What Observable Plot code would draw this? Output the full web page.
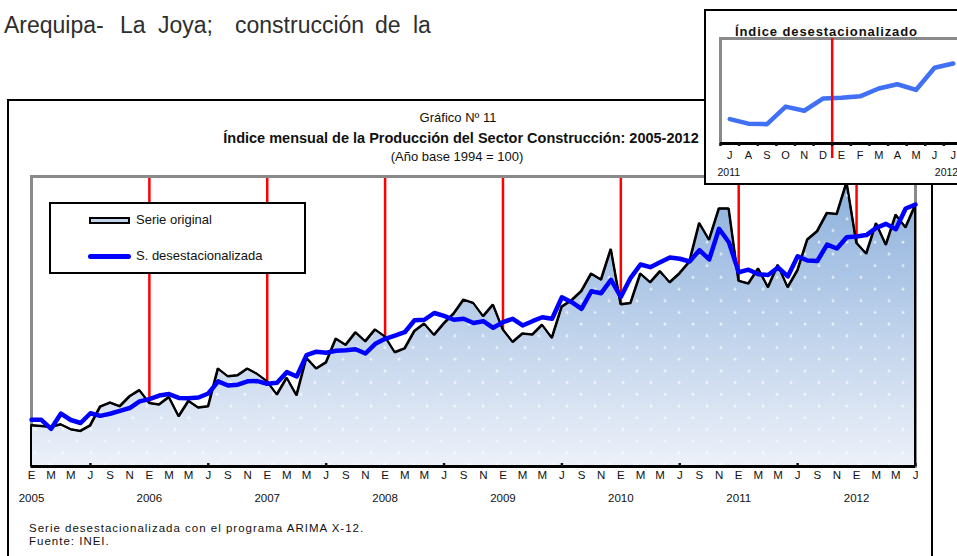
<!DOCTYPE html>
<html><head><meta charset="utf-8">
<script src="https://cdn.jsdelivr.net/npm/d3@7"></script>
<script src="https://cdn.jsdelivr.net/npm/@observablehq/plot@0.6"></script>
<style>
html,body{margin:0;padding:0;background:#fff;overflow:hidden;width:957px;height:556px;}
body{position:relative;font-family:"Liberation Sans",Arial,sans-serif;color:#111;}
.abs{position:absolute;white-space:nowrap;}
.c{transform:translate(-50%,-50%);}
.m{transform:translate(0,-50%);}
.w{position:absolute;top:13.5px;font-size:23px;line-height:23px;color:#2e2e2e;white-space:nowrap;}
</style></head><body>
<span class="w" style="left:4px;">Arequipa-</span>
<span class="w" style="left:120px;">La</span>
<span class="w" style="left:158px;">Joya;</span>
<span class="w" style="left:235px;">construcción</span>
<span class="w" style="left:375px;">de</span>
<span class="w" style="left:413px;">la</span>
<div class="abs" style="left:7px;top:99px;width:926px;height:490px;border:2px solid #000;box-sizing:border-box;"></div>
<div id="main" class="abs" style="left:0;top:166px;"></div>
<div class="abs c" style="left:458px;top:118px;font-size:13px;line-height:16px;">Gráfico Nº 11</div>
<div class="abs c" style="left:461px;top:138px;font-size:14.5px;line-height:17px;font-weight:bold;">Índice mensual de la Producción del Sector Construcción: 2005-2012</div>
<div class="abs c" style="left:457px;top:157px;font-size:13px;line-height:16px;">(Año base 1994 = 100)</div>
<div class="abs" style="left:49px;top:202px;width:257px;height:72px;border:2px solid #000;box-sizing:border-box;background:#fff;"></div>
<div class="abs" style="left:89px;top:217px;width:41px;height:7px;border:2px solid #000;box-sizing:border-box;background:#c3d5ec;"></div>
<div class="abs m" style="left:136px;top:220px;font-size:13px;line-height:16px;">Serie original</div>
<div class="abs" style="left:88px;top:253.5px;width:43px;height:5px;border-radius:2.5px;background:#0000ff;"></div>
<div class="abs m" style="left:136px;top:256px;font-size:13px;line-height:16px;">S. desestacionalizada</div>
<div class="abs m" style="left:29px;top:528px;font-size:11.5px;line-height:12px;letter-spacing:1px;">Serie desestacionalizada con el programa ARIMA X-12.</div>
<div class="abs m" style="left:29px;top:541px;font-size:11.5px;line-height:12px;letter-spacing:1px;">Fuente: INEI.</div>
<div id="inset" class="abs" style="left:704px;top:9px;width:264px;height:176px;border:2px solid #000;box-sizing:border-box;background:#fff;z-index:5;">
  <div class="abs m" style="left:29px;top:21px;font-size:13px;line-height:16px;font-weight:bold;letter-spacing:0.9px;">Índice desestacionalizado</div>
  <div id="insetPlot" class="abs" style="left:0;top:0;"></div>
</div>
<script>
// ---- data ----
const monthLetters = ["E","F","M","A","M","J","J","A","S","O","N","D"];
const years = [2005, 2006, 2007, 2008, 2009, 2010, 2011, 2012];
// Serie original, enero 2005 - julio 2012
const original = [
  192.4,191.7,190.7,193.4,188.3,186.5,192.4,211.6,215.9,212.1,222.4,228.8,
  215.5,213.8,221.7,201.7,217.6,210.7,212.1,251.1,243.1,244.1,251.1,245.5,
  237.9,224.2,241.6,223.4,262.2,251.1,257.4,282.1,275.5,288.6,279.3,291.5,
  284.2,267.9,271.9,289.9,297.6,285.9,297.9,308.0,322.4,318.9,305.2,317.3,
  291.7,278.6,287.3,286.2,296.4,282.9,315.2,321.7,331.3,349.3,343.1,374.8,
  317.6,318.9,349.3,340.3,351.7,340.3,349.7,361.6,401.7,384.3,416.6,416.6,
  341.9,339.0,354.5,335.2,358.4,335.2,352.8,384.5,393.1,412.0,411.0,443.8,
  381.2,370.0,401.4,379.1,410.2,397.2,420.3
];
// Serie desestacionalizada, enero 2005 - julio 2012
const desest = [
  198.3,198.3,189.0,204.8,198.1,195.0,205.1,202.4,204.6,207.6,210.5,217.4,
  219.7,223.4,224.9,220.9,220.6,221.4,225.5,238.1,233.8,234.6,238.1,238.4,
  235.6,236.7,247.6,243.1,265.1,268.8,267.7,269.7,270.3,271.3,266.9,276.9,
  282.1,285.5,288.9,301.3,301.8,308.8,305.9,301.8,302.8,298.4,300.3,293.5,
  299.3,302.8,295.9,300.3,304.4,302.8,325.1,320.0,313.1,331.3,329.3,343.1,
  325.5,345.2,359.0,356.2,361.3,366.2,364.9,362.1,373.8,364.3,395.9,382.0,
  351.0,353.6,348.9,348.1,355.9,346.6,367.5,363.1,362.6,379.5,375.5,387.2,
  387.9,389.4,396.9,401.0,395.5,416.9,421.0
];
const yDomain = [150, 450];
const insetStart = 78; // julio 2011
const insetDomain = [344, 445];

const data = original.map((v, i) => ({i, orig: v, sa: desest[i]}));
const idx = d3.range(original.length);
const janIdx = idx.filter(i => i % 12 === 0);
const julIdx = idx.filter(i => i % 12 === 6);
const labelIdx = idx.filter(i => i % 2 === 0);
const Y0 = yDomain[0];

const main = Plot.plot({
  width: 957, height: 344,
  marginLeft: 31, marginRight: 42, marginTop: 10, marginBottom: 44,
  x: {domain: [0, original.length - 1], axis: null},
  y: {domain: yDomain, axis: null},
  style: {background: "transparent", fontFamily: "'Liberation Sans',Arial,sans-serif", fontSize: "11.5px", overflow: "visible"},
  marks: [
    Plot.ruleX(janIdx, {stroke: "#ff0000", strokeWidth: 2.5}),
    Plot.frame({stroke: "#8a8a8a", strokeWidth: 3}),
    Plot.areaY(data, {x: "i", y1: Y0, y2: "orig", fill: "url(#fillGrad)", stroke: "#000", strokeWidth: 2, strokeLinejoin: "miter"}),
    Plot.areaY(data, {x: "i", y1: Y0, y2: "orig", fill: "url(#dots)"}),
    Plot.lineY(data, {x: "i", y: "orig", stroke: "#000", strokeWidth: 2, strokeLinejoin: "miter"}),
    Plot.lineY(data, {x: "i", y: "sa", stroke: "#0000ff", strokeWidth: 4.5, strokeLinejoin: "round"}),
    Plot.ruleY([Y0], {stroke: "#000", strokeWidth: 3}),
    Plot.axisX({ticks: julIdx, tickSize: -3, tickFormat: () => "", label: null, strokeWidth: 2.5}),
    Plot.text(labelIdx, {x: d => d, text: d => monthLetters[d % 12], frameAnchor: "bottom", dy: 12, fill: "#111"}),
    Plot.text(janIdx, {x: d => d, text: d => String(years[d / 12]), frameAnchor: "bottom", dy: 35, fill: "#111"})
  ]
});
const defs = d3.select(main).insert("defs", ":first-child");
const lg = defs.append("linearGradient").attr("id", "fillGrad").attr("x1", 0).attr("y1", 0).attr("x2", 0).attr("y2", 1);
lg.append("stop").attr("offset", "0%").attr("stop-color", "#8cb0dc");
lg.append("stop").attr("offset", "100%").attr("stop-color", "#edf1f9");
const pat = defs.append("pattern").attr("id", "dots").attr("patternUnits", "userSpaceOnUse").attr("width", 28).attr("height", 23.4);
pat.append("path").attr("d", "M5.5,6h3M7,4.5v3M19.5,17.7h3M21,16.2v3").attr("stroke", "#fff").attr("stroke-width", 1).attr("opacity", 0.85);
document.getElementById("main").append(main);

// ---- inset ----
const insetData = d3.range(insetStart, original.length).map((i, j) => ({j, i, v: desest[i]}));
const yearBreak = insetData.find(d => d.i % 12 === 0).j - 0.5;
const inset = Plot.plot({
  width: 258, height: 172,
  marginLeft: 14, marginRight: 2, marginTop: 27, marginBottom: 40,
  x: {domain: [-0.5, insetData.length - 0.5], axis: null},
  y: {domain: insetDomain, axis: null},
  style: {background: "transparent", fontFamily: "'Liberation Sans',Arial,sans-serif", fontSize: "11px", overflow: "visible"},
  marks: [
    Plot.frame({stroke: "#8a8a8a", strokeWidth: 3}),
    Plot.lineY(insetData, {x: "j", y: "v", stroke: "#4070f5", strokeWidth: 4.5, strokeLinejoin: "round"}),
    Plot.ruleX([yearBreak], {stroke: "#ff0000", strokeWidth: 2.5, insetBottom: -15}),
    Plot.ruleY([insetDomain[0]], {stroke: "#000", strokeWidth: 3}),
    Plot.axisX({ticks: d3.range(insetData.length + 1).map(k => k - 0.5), tickSize: 3, tickFormat: () => "", label: null, strokeWidth: 2.5}),
    Plot.text(insetData, {x: "j", text: d => monthLetters[d.i % 12], frameAnchor: "bottom", dy: 15.5, fill: "#111"}),
    Plot.text([String(years[Math.floor(insetStart / 12)])], {frameAnchor: "bottom-left", textAnchor: "start", dx: -3, dy: 32, fontSize: 10.5, fill: "#111"}),
    Plot.text([String(years[years.length - 1])], {x: [insetData.length - 1], frameAnchor: "bottom", textAnchor: "end", dx: 5, dy: 32, fontSize: 10.5, fill: "#111"})
  ]
});
document.getElementById("insetPlot").append(inset);
</script>
</body></html>
